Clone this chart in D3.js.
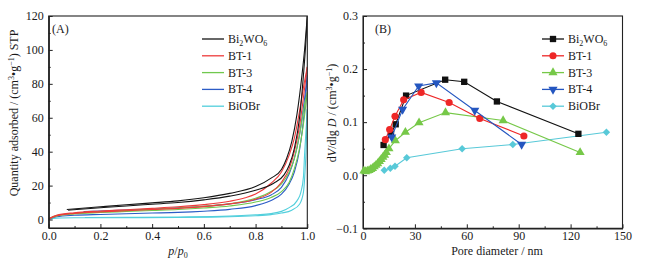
<!DOCTYPE html>
<html><head><meta charset="utf-8">
<script src="https://cdn.jsdelivr.net/npm/d3@7"></script>
<style>
body{margin:0;background:#fff}
svg{display:block}
svg text{font-family:'Liberation Serif','DejaVu Serif',serif !important;fill:#1a1a1a}
</style>
</head><body>
<svg id="c" width="646" height="264"></svg>
<script>
// ---------- DATA ----------
const seriesKeys = ["Bi2WO6", "BT-1", "BT-3", "BT-4", "BiOBr"];

// Panel A: N2 isotherms [p/p0, quantity adsorbed]
const bi2wo6Ads = [[0.075,5.5],[0.2,6.9],[0.3,8.0],[0.4,9.0],[0.5,10.0],[0.6,11.6],[0.7,13.8],[0.8,17.3],[0.87,21.4],[0.91,26.3],[0.93,32],[0.95,42],[0.97,60],[0.985,85],[0.995,106],[1.0,120]];
const bi2wo6Des = [[0.07,5.9],[0.2,7.5],[0.3,8.7],[0.4,9.8],[0.5,11.0],[0.6,12.8],[0.7,15.4],[0.8,19.4],[0.86,24.4],[0.9,29.5],[0.92,36],[0.94,46],[0.96,62],[0.98,86],[0.99,101],[1.0,120]];
const bt1Ads = [[0.0,0.3],[0.03,2.2],[0.1,3.6],[0.2,4.5],[0.3,5.2],[0.4,5.9],[0.5,6.6],[0.6,7.6],[0.7,9.2],[0.8,12.0],[0.86,16],[0.9,22],[0.93,30],[0.95,40],[0.97,55],[0.99,78],[1.0,90]];
const bt1Des = [[0.0,0.5],[0.03,2.5],[0.1,4.0],[0.2,5.0],[0.3,5.8],[0.4,6.6],[0.5,7.5],[0.6,8.8],[0.7,10.8],[0.76,12.8],[0.8,15.0],[0.86,21.4],[0.9,28],[0.93,38],[0.95,48],[0.97,64],[0.99,82],[1.0,90]];
const bt3Ads = [[0.0,0.3],[0.03,2.0],[0.1,3.3],[0.2,4.1],[0.3,4.7],[0.4,5.3],[0.5,5.9],[0.6,6.8],[0.7,8.0],[0.8,10.3],[0.86,13],[0.9,16.5],[0.93,22],[0.95,30],[0.97,42],[0.99,62],[1.0,75]];
const bt3Des = [[0.0,0.5],[0.03,2.3],[0.1,3.7],[0.2,4.6],[0.3,5.3],[0.4,6.0],[0.5,6.8],[0.6,7.8],[0.7,9.3],[0.8,12.5],[0.86,16.5],[0.9,21],[0.93,28],[0.95,36],[0.97,50],[0.99,68],[1.0,75]];
const bt4Ads = [[0.0,0.2],[0.03,1.6],[0.1,2.5],[0.2,3.0],[0.3,3.4],[0.4,3.8],[0.5,4.2],[0.6,4.9],[0.7,6.0],[0.8,8.2],[0.87,12],[0.9,15],[0.93,21],[0.95,28],[0.97,41],[0.99,66],[1.0,85]];
const bt4Des = [[0.135,4.7],[0.2,5.0],[0.3,5.6],[0.4,6.2],[0.5,6.9],[0.6,7.8],[0.7,9.2],[0.8,11.7],[0.86,14.5],[0.9,19],[0.93,27],[0.95,36],[0.97,50],[0.99,72],[1.0,85]];
const biobrAds = [[0.0,0.2],[0.03,0.8],[0.1,1.0],[0.3,1.1],[0.5,1.2],[0.7,1.6],[0.8,2.2],[0.86,2.9],[0.9,3.8],[0.94,5.5],[0.97,9],[0.985,16],[0.99,25],[0.995,40],[1.0,65]];
const biobrDes = [[0.14,1.2],[0.3,1.3],[0.5,1.5],[0.7,2.0],[0.8,2.8],[0.86,3.5],[0.9,4.8],[0.93,7],[0.96,11],[0.975,16],[0.985,25],[0.99,40],[1.0,65]];

// Panel B: pore size distribution [pore diameter nm, dV/dlgD]
const bi2wo6Pore = [[11.9,0.057],[16.2,0.078],[18.9,0.096],[24.9,0.150],[47.5,0.180],[58.5,0.176],[77.4,0.139],[124.5,0.078]];
const bt1Pore = [[12.9,0.067],[15.4,0.086],[18.5,0.111],[23.5,0.142],[33.6,0.156],[49.8,0.137],[67.5,0.107],[93.0,0.074]];
const bt3Pore = [[0.5,0.008],[1.5,0.007],[2.5,0.008],[3.5,0.009],[4.5,0.011],[5.5,0.013],[6.5,0.016],[7.5,0.019],[8.5,0.022],[9.5,0.026],[10.5,0.030],[11.5,0.034],[12.5,0.038],[13.5,0.043],[15.0,0.050],[18.7,0.065],[24.5,0.081],[32.4,0.099],[47.7,0.118],[81.0,0.103],[125.5,0.043]];
const bt4Pore = [[16.6,0.072],[22.9,0.124],[32.2,0.168],[42.4,0.174],[64.6,0.122],[91.7,0.058]];
const biobrPore = [[12.3,0.0095],[15.8,0.013],[18.5,0.017],[25.3,0.033],[57.3,0.050],[86.6,0.058],[140.7,0.081]];

const ticksAX = [0, 0.2, 0.4, 0.6, 0.8, 1.0];
const ticksAY = [0, 20, 40, 60, 80, 100, 120];
const ticksBX = [0, 30, 60, 90, 120, 150];
const ticksBY = [-0.1, 0, 0.1, 0.2, 0.3];

// ---------- DRAW ----------
const FONT = "'Liberation Serif','DejaVu Serif',serif";
const svg = d3.select("#c").style("font-family", FONT);
const colA = ["#151515", "#ee3b3b", "#70c84e", "#2c5cc6", "#52cfdc"];
const colB = ["#111111", "#ee2727", "#76c848", "#2456c0", "#58c9d8"];
const isoAds = [bi2wo6Ads, bt1Ads, bt3Ads, bt4Ads, biobrAds];
const isoDes = [bi2wo6Des, bt1Des, bt3Des, bt4Des, biobrDes];
const pores = [bi2wo6Pore, bt1Pore, bt3Pore, bt4Pore, biobrPore];

function legendLabel(sel, key){
  if(key === "Bi2WO6"){
    sel.append("tspan").text("Bi");
    sel.append("tspan").attr("font-size","8px").attr("dy","3").text("2");
    sel.append("tspan").attr("dy","-3").text("WO");
    sel.append("tspan").attr("font-size","8px").attr("dy","3").text("6");
  } else sel.text(key);
}

function frame(g, x, y){
  const [x0,x1] = x.range(), [y0,y1] = y.range();
  g.append("rect").attr("x",x0).attr("y",y1).attr("width",x1-x0).attr("height",y0-y1)
    .attr("fill","none").attr("stroke","#222").attr("stroke-width",1.1);
}

function axes(g, x, y, tx, ty, minorX, minorY, fmtX, fmtY){
  const [y0] = y.range(); const [x0] = x.range();
  g.append("g").attr("transform",`translate(0,${y0})`)
    .call(d3.axisBottom(x).tickValues(tx).tickSizeInner(-4).tickSizeOuter(0).tickPadding(3).tickFormat(fmtX));
  g.append("g").attr("transform",`translate(0,${y0})`)
    .call(d3.axisBottom(x).tickValues(minorX).tickSizeInner(-2).tickSizeOuter(0).tickFormat(""));
  g.append("g").attr("transform",`translate(${x0},0)`)
    .call(d3.axisLeft(y).tickValues(ty).tickSizeInner(-4).tickSizeOuter(0).tickPadding(5).tickFormat(fmtY));
  g.append("g").attr("transform",`translate(${x0},0)`)
    .call(d3.axisLeft(y).tickValues(minorY).tickSizeInner(-2).tickSizeOuter(0).tickFormat(""));
  g.selectAll("g").attr("font-family",FONT);
  g.selectAll(".domain").attr("stroke","#222");
  g.selectAll(".tick line").attr("stroke","#222");
  g.selectAll(".tick text").attr("font-size","12px").attr("fill","#1a1a1a");
}

// ----- Panel A -----
const xA = d3.scaleLinear().domain([0,1]).range([48.7,307.3]);
const yA = d3.scaleLinear().domain([-5,120]).range([228,16]);
const gA = svg.append("g");
const lineA = d3.line().x(d=>xA(d[0])).y(d=>yA(d[1])).curve(d3.curveMonotoneX);
svg.append("clipPath").attr("id","clipA").append("rect")
  .attr("x",48.7).attr("y",16).attr("width",258.6).attr("height",212);
const plotA = gA.append("g").attr("clip-path","url(#clipA)");
for(let i=isoAds.length-1;i>=0;i--){
  plotA.append("path").attr("d",lineA(isoAds[i])).attr("fill","none").attr("stroke",colA[i]).attr("stroke-width",1.1);
  plotA.append("path").attr("d",lineA(isoDes[i])).attr("fill","none").attr("stroke",colA[i]).attr("stroke-width",1.1);
}
frame(gA,xA,yA);
axes(gA,xA,yA,ticksAX,ticksAY,d3.range(0.1,1,0.2),d3.range(10,120,20),d3.format(".1f"),d3.format("d"));
gA.append("text").attr("x",52).attr("y",33).attr("font-size","12px").text("(A)");
seriesKeys.forEach((k,i)=>{
  const yy = 39 + i*16.8;
  gA.append("line").attr("x1",202).attr("x2",224).attr("y1",yy).attr("y2",yy).attr("stroke",colA[i]).attr("stroke-width",1.3);
  const t = gA.append("text").attr("x",228).attr("y",yy+4).attr("font-size","12px");
  legendLabel(t,k);
});
const xlA = gA.append("text").attr("x",178).attr("y",255).attr("text-anchor","middle").attr("font-size","12px");
xlA.append("tspan").attr("font-style","italic").text("p");
xlA.append("tspan").text("/");
xlA.append("tspan").attr("font-style","italic").text("p");
xlA.append("tspan").attr("font-size","8px").attr("dy","3").text("0");
const ylA = gA.append("text").attr("transform","translate(18,113) rotate(-90)").attr("text-anchor","middle").attr("font-size","12px");
ylA.append("tspan").text("Quantity adsorbed / (cm");
ylA.append("tspan").attr("font-size","8px").attr("dy","-4").text("3");
ylA.append("tspan").attr("dy","4").text("\u2022g");
ylA.append("tspan").attr("font-size","8px").attr("dy","-4").text("\u22121");
ylA.append("tspan").attr("dy","4").text(") STP");

// ----- Panel B -----
const xB = d3.scaleLinear().domain([0,150]).range([363,622.5]);
const yB = d3.scaleLinear().domain([-0.1,0.3]).range([228.3,16]);
const gB = svg.append("g");
frame(gB,xB,yB);
axes(gB,xB,yB,ticksBX,ticksBY,d3.range(15,150,30),[-0.05,0.05,0.15,0.25],d3.format("d"),d=>d3.format(".1f")(d).replace("-","\u2212"));
const lineB = d3.line().x(d=>xB(d[0])).y(d=>yB(d[1]));
const symDefs = [
  {type:d3.symbolSquare,size:40,rot:0},
  {type:d3.symbolCircle,size:40,rot:0},
  {type:d3.symbolTriangle,size:36,rot:0},
  {type:d3.symbolTriangle,size:36,rot:180},
  {type:d3.symbolSquare,size:28,rot:45}
];
const drawOrder = [4,2,0,1,3];
drawOrder.forEach(i=>{
  gB.append("path").attr("d",lineB(pores[i])).attr("fill","none").attr("stroke",colB[i]).attr("stroke-width",1.1);
  const s = d3.symbol().type(symDefs[i].type).size(symDefs[i].size);
  gB.selectAll(null).data(pores[i]).enter().append("path")
    .attr("d",s).attr("fill",colB[i])
    .attr("transform",d=>`translate(${xB(d[0])},${yB(d[1])}) rotate(${symDefs[i].rot})`);
});
gB.append("text").attr("x",375).attr("y",33).attr("font-size","12px").text("(B)");
seriesKeys.forEach((k,i)=>{
  const yy = 39 + i*16.8;
  gB.append("line").attr("x1",542).attr("x2",564).attr("y1",yy).attr("y2",yy).attr("stroke",colB[i]).attr("stroke-width",1.3);
  const s = d3.symbol().type(symDefs[i].type).size(symDefs[i].size);
  gB.append("path").attr("d",s).attr("fill",colB[i]).attr("transform",`translate(553,${yy}) rotate(${symDefs[i].rot})`);
  const t = gB.append("text").attr("x",568).attr("y",yy+4).attr("font-size","12px");
  legendLabel(t,k);
});
gB.append("text").attr("x",497).attr("y",255).attr("text-anchor","middle").attr("font-size","12px").text("Pore diameter / nm");
const ylB = gB.append("text").attr("transform","translate(336,113) rotate(-90)").attr("text-anchor","middle").attr("font-size","12px");
ylB.append("tspan").text("d");
ylB.append("tspan").attr("font-style","italic").text("V");
ylB.append("tspan").text("/dlg ");
ylB.append("tspan").attr("font-style","italic").text("D");
ylB.append("tspan").text(" / (cm");
ylB.append("tspan").attr("font-size","8px").attr("dy","-4").text("3");
ylB.append("tspan").attr("dy","4").text("\u2022g");
ylB.append("tspan").attr("font-size","8px").attr("dy","-4").text("\u22121");
ylB.append("tspan").attr("dy","4").text(")");
</script>
</body></html>
